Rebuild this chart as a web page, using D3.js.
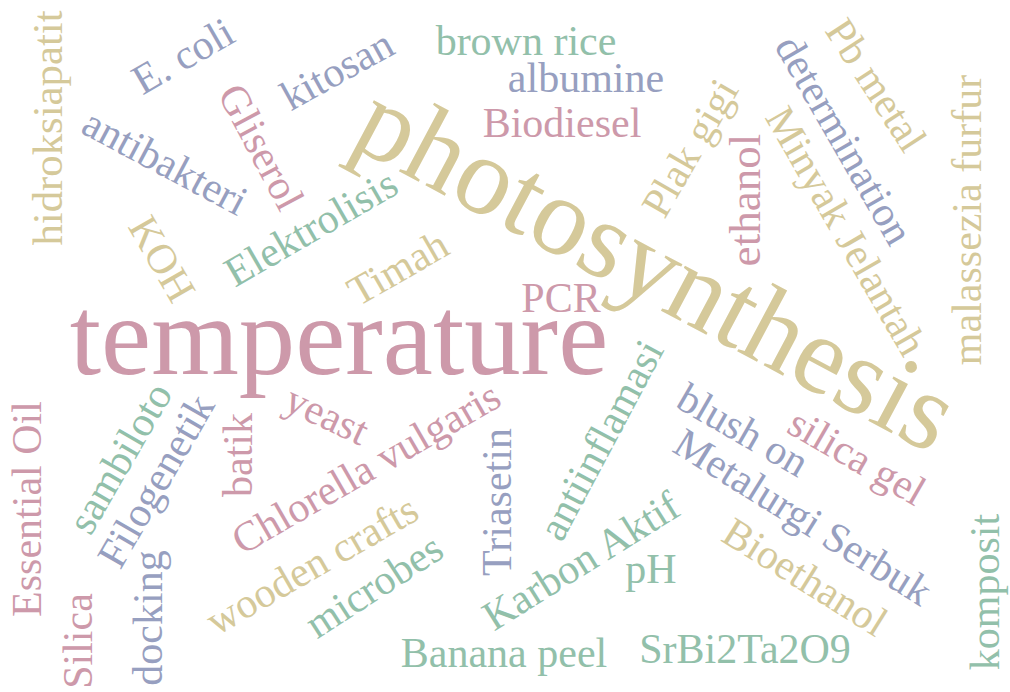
<!DOCTYPE html>
<html>
<head>
<meta charset="utf-8">
<script src="https://cdn.jsdelivr.net/npm/d3@7"></script>
<style>
html,body{margin:0;padding:0;background:#fff;}
svg{display:block;}
</style>
</head>
<body>
<svg id="chart" width="1010" height="692"></svg>
<script>
// ---- data: keywords and their (estimated) frequencies ----
const words = ["photosynthesis","temperature","hidroksiapatit","E. coli","kitosan","brown rice","albumine","Biodiesel",
  "Gliserol","antibakteri","KOH","Elektrolisis","Timah","PCR","Plak gigi","ethanol","determination","Pb metal",
  "Minyak Jelantah","malassezia furfur","silica gel","blush on","Metalurgi Serbuk","Bioethanol","komposit",
  "SrBi2Ta2O9","Banana peel","pH","Karbon Aktif","Triasetin","antiinflamasi","Chlorella vulgaris","yeast","batik",
  "Filogenetik","sambiloto","Essential Oil","Silica","docking","wooden crafts","microbes"];
const frequency = [9.9,10.1,1.1,1,1,1,1,1,
  1,1,1,1,1,1,1,1.4,1,1,
  1,1,1,1,1,1,1,
  1,1,1,1,1,1,1,1,1,
  1,1,1,1,1,1,1];
const colorGroup = [0,1,0,2,2,3,2,1,
  1,2,0,3,0,1,0,1,2,0,
  0,0,1,2,2,0,3,
  3,3,3,3,2,3,1,1,1,
  2,3,1,1,2,0,3];

// ---- cloud layout (placement of each word in a 1010 x 692 layout space) ----
const layoutX = [657,339,48,183,337,526,586,562,
  261,165,162,311,398,561,690,745,844,876,
  846,967,857,743,803,805,985,
  745,504,651,581,497,601,366,327,238,
  156,120,27,78,148,312,374];
const layoutY = [267,337,128,56,70,41,78,123,
  147,162,259,228,268,298,148,200,140,85,
  231,220,457,430,517,577,592,
  649,653,569,561,502,440,468,415,455,
  481,458,509,641,618,565,586];
const layoutRotate = [28,0,-90,-30,-29,0,0,0,
  62,28,60,-30,-30,0,-60,-90,60,57,
  60,-90,30,30,32,32,-90,
  0,0,0,-32,-90,-62,-30,25,-90,
  -60,-60,-90,-90,-90,-30,-33];

const palette = ["#d5c99a","#cd99aa","#979fc0","#92c0aa"];

const svg = d3.select("#chart");
const W = +svg.attr("width"), H = +svg.attr("height");
const x = d3.scaleLinear().domain([0,1010]).range([0,W]);
const y = d3.scaleLinear().domain([0,692]).range([0,H]);
const size = d3.scaleLinear().domain([1,10]).range([42,112]);
const color = d3.scaleOrdinal().domain([0,1,2,3]).range(palette);

const data = words.map((w,i)=>({text:w,f:frequency[i],c:colorGroup[i],x:layoutX[i],y:layoutY[i],r:layoutRotate[i]}));

svg.append("g").selectAll("text").data(data).join("text")
  .attr("text-anchor","middle")
  .attr("dy","0.33em")
  .attr("transform",d=>`translate(${x(d.x)},${y(d.y)}) rotate(${d.r})`)
  .style("font-family","'Liberation Serif','Times New Roman',serif")
  .style("font-size",d=>size(d.f)+"px")
  .style("fill",d=>color(d.c))
  .text(d=>d.text);
</script>
</body>
</html>
